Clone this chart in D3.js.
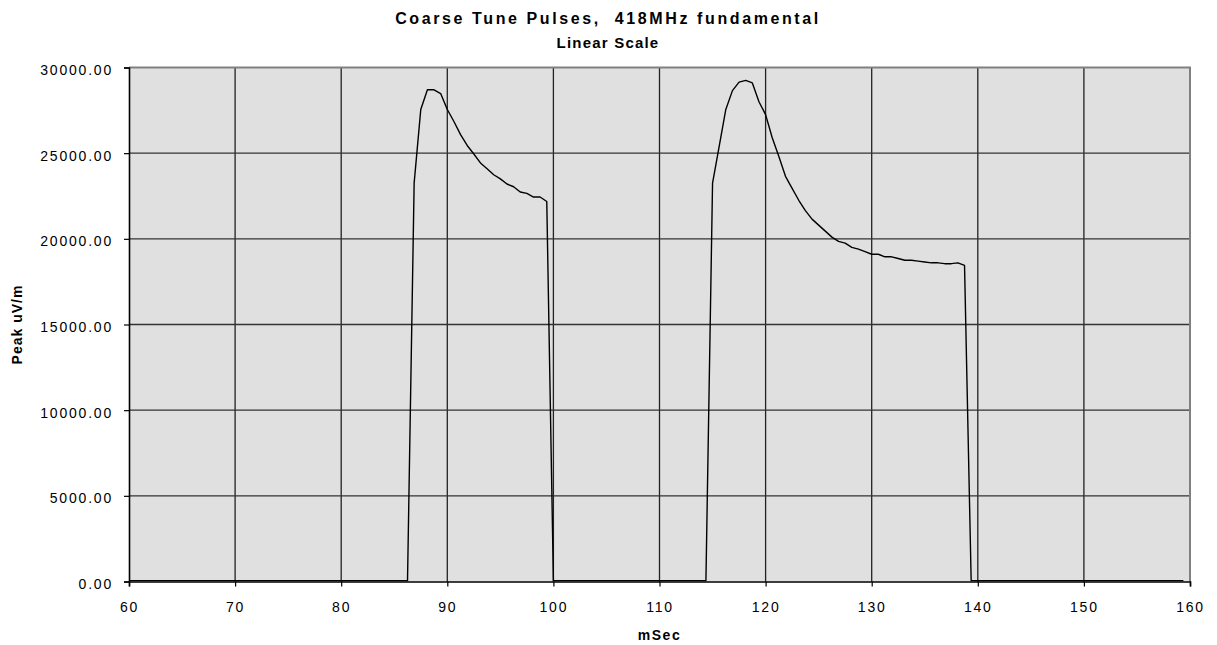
<!DOCTYPE html>
<html><head><meta charset="utf-8">
<script src="https://cdn.jsdelivr.net/npm/d3@7"></script>
<style>
body{margin:0;background:#fff}
text{font-family:"Liberation Sans",Arial,sans-serif;fill:#000}
</style>
</head><body>
<svg id="chart" width="1217" height="645"></svg>
<script>
// Pulse trace samples (time in ms, peak field in uV/m)
const msec = [
  60, 86.25,
  86.875, 87.5, 88.125, 88.75, 89.375, 90, 90.625, 91.25, 91.875, 92.5, 93.125,
  93.75, 94.375, 95, 95.625, 96.25, 96.875, 97.5, 98.125, 98.75, 99.375,
  100, 114.375,
  115, 115.625, 116.25, 116.875, 117.5, 118.125, 118.75, 119.375, 120, 120.625,
  121.25, 121.875, 122.5, 123.125, 123.75, 124.375, 125, 125.625, 126.25, 126.875,
  127.5, 128.125, 128.75, 129.375, 130, 130.625, 131.25, 131.875, 132.5, 133.125,
  133.75, 134.375, 135, 135.625, 136.25, 136.875, 137.5, 138.125, 138.75,
  139.375, 159.375
];
const peak = [
  50, 50,
  23250, 27550, 28700, 28700, 28480, 27550, 26850, 26080, 25450, 24950, 24430,
  24090, 23740, 23500, 23200, 23040, 22730, 22650, 22440, 22440, 22180,
  50, 50,
  23250, 25400, 27550, 28650, 29150, 29250, 29100, 28000, 27250, 25900,
  24800, 23650, 22950, 22250, 21650, 21150, 20800, 20450, 20100, 19850,
  19750, 19500, 19400, 19250, 19100, 19100, 18950, 18950, 18850, 18750,
  18750, 18700, 18650, 18600, 18600, 18550, 18550, 18600, 18450,
  50, 50
];
const xTicks = [60, 70, 80, 90, 100, 110, 120, 130, 140, 150, 160];
const yTicks = [0, 5000, 10000, 15000, 20000, 25000, 30000];

const titleText = "Coarse Tune Pulses,  418MHz fundamental";
const subtitleText = "Linear Scale";
const xTitle = "mSec";
const yTitle = "Peak uV/m";

const svg = d3.select("#chart");
const plotL = 129, plotR = 1190, plotT = 67.5, plotB = 581.5;

const x = d3.scaleLinear().domain([60, 160]).range([plotL, plotR]);
const y = d3.scaleLinear().domain([0, 30000]).range([plotB, plotT]);

// plot background
svg.append("rect")
  .attr("x", plotL).attr("y", plotT)
  .attr("width", plotR - plotL).attr("height", plotB - plotT)
  .attr("fill", "#e0e0e0");

// grid
svg.append("g").selectAll("line")
  .data(xTicks.slice(1, -1)).join("line")
  .attr("x1", d => x(d)).attr("x2", d => x(d))
  .attr("y1", plotT).attr("y2", plotB)
  .attr("stroke", "#222").attr("stroke-width", 1.3);
svg.append("g").selectAll("line")
  .data(yTicks.slice(1, -1)).join("line")
  .attr("y1", d => y(d)).attr("y2", d => y(d))
  .attr("x1", plotL).attr("x2", plotR)
  .attr("stroke", "#333").attr("stroke-width", 1.3);

// frame: grey top/right
svg.append("path")
  .attr("d", `M${plotL},${plotT}H${plotR}V${plotB}`)
  .attr("fill", "none").attr("stroke", "#808080").attr("stroke-width", 2);

// axes
const xAxis = d3.axisBottom(x).tickValues(xTicks).tickSize(5).tickPadding(16)
  .tickFormat(d3.format("d"));
const gx = svg.append("g").attr("transform", `translate(0,${plotB})`).call(xAxis);
const yAxis = d3.axisLeft(y).tickValues(yTicks).tickSize(5).tickPadding(11)
  .tickFormat(d3.format(".2f"));
const gy = svg.append("g").attr("transform", `translate(${plotL},0)`).call(yAxis);

[gx, gy].forEach(g => {
  g.select(".domain").attr("stroke", "#000").attr("stroke-width", 1.6);
  g.selectAll(".tick line").attr("stroke", "#000").attr("stroke-width", 1.2);
  g.selectAll(".tick text")
    .attr("font-family", '"Liberation Sans", Arial, sans-serif')
    .attr("font-size", 14).attr("letter-spacing", "1.8px").attr("fill", "#000");
});
gy.selectAll(".tick text").attr("dy", "0.5em");

// trace
const line = d3.line().x((d, i) => x(msec[i])).y((d, i) => y(peak[i]));
svg.append("path")
  .datum(peak)
  .attr("d", line)
  .attr("fill", "none")
  .attr("stroke", "#000")
  .attr("stroke-width", 1.4)
  .attr("stroke-linejoin", "round");

// titles
svg.append("text")
  .attr("x", 608).attr("y", 24)
  .attr("text-anchor", "middle")
  .attr("font-size", 16).attr("font-weight", "bold").attr("letter-spacing", "2.6px")
  .attr("xml:space", "preserve")
  .text(titleText);
svg.append("text")
  .attr("x", 608).attr("y", 48)
  .attr("text-anchor", "middle")
  .attr("font-size", 15).attr("font-weight", "bold").attr("letter-spacing", "1.2px")
  .text(subtitleText);
svg.append("text")
  .attr("x", (plotL + plotR) / 2).attr("y", 640)
  .attr("text-anchor", "middle")
  .attr("font-size", 14).attr("font-weight", "bold").attr("letter-spacing", "1.5px")
  .text(xTitle);
svg.append("text")
  .attr("transform", `translate(22,${(plotT + plotB) / 2}) rotate(-90)`)
  .attr("text-anchor", "middle")
  .attr("font-size", 14).attr("font-weight", "bold").attr("letter-spacing", "1px")
  .text(yTitle);
</script>
</body></html>
